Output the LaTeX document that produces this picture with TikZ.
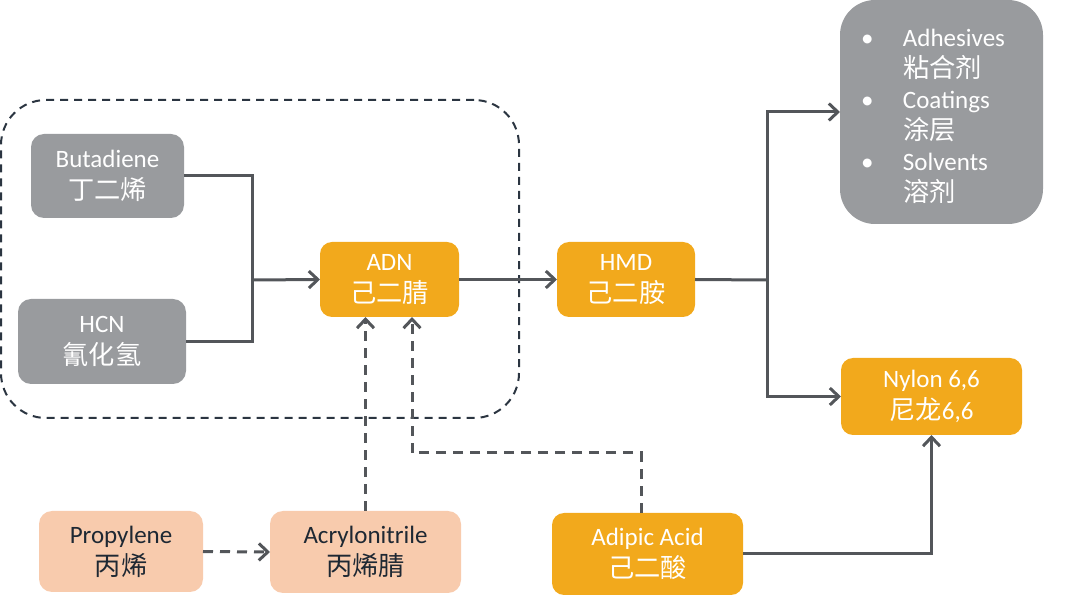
\documentclass[tikz,border=0pt]{standalone}
\usepackage{fontspec}
\setmainfont{Carlito}
\newfontfamily\cjk[Scale=1.05]{Noto Sans CJK SC}
\usetikzlibrary{arrows.meta}
\definecolor{boxgray}{HTML}{999B9E}
\definecolor{boxorange}{HTML}{F2A91C}
\definecolor{boxpeach}{HTML}{F8CBAD}
\definecolor{linegray}{HTML}{53565A}
\definecolor{dashgray}{HTML}{2B3541}
\definecolor{darktext}{HTML}{1E2833}
\begin{document}
\begin{tikzpicture}[x=1pt,y=-1pt,
  every node/.style={inner sep=0pt, outer sep=0pt, align=center, font=\fontsize{25}{32}\selectfont},
  graybox/.style={fill=boxgray, text=white, rounded corners=13pt},
  orangebox/.style={fill=boxorange, text=white, rounded corners=12pt},
  peachbox/.style={fill=boxpeach, text=darktext, rounded corners=13pt},
  conn/.style={draw=linegray, line width=3pt},
  arr/.style={conn, -{Straight Barb[length=9pt,width=17pt]}},
  darr/.style={arr, dash pattern=on 10pt off 7pt},
  grp/.style={draw=dashgray, line width=2pt, dash pattern=on 8pt off 6pt, rounded corners=45pt}
]
\useasboundingbox (0,0) rectangle (1080,601);

\node[grp, minimum width=518pt, minimum height=318pt] (group) at (260,259) {};

\node[graybox, minimum width=153pt, minimum height=84pt] (but) at (107.5,176) {Butadiene\\{\cjk 丁二烯}};
\node[graybox, minimum width=168pt, minimum height=85pt] (hcn) at (102,341.5) {HCN\\{\cjk 氰化氢}};
\node[orangebox, minimum width=139pt, minimum height=75pt] (adn) at (389.5,279.5) {ADN\\{\cjk 己二腈}};
\node[orangebox, minimum width=138pt, minimum height=75pt] (hmd) at (626,279.5) {HMD\\{\cjk 己二胺}};
\node[graybox, rounded corners=35pt, minimum width=203pt, minimum height=224pt] (uses) at (941.5,112) {};
\node[text=white, anchor=north west, align=left] (usestext) at (861,24)
  {\begin{tabular}{@{}p{42pt}@{}l@{}}
   \textbullet & Adhesives\\[-1pt]
   & {\cjk 粘合剂}\\[-1pt]
   \textbullet & Coatings\\[-1pt]
   & {\cjk 涂层}\\[-1pt]
   \textbullet & Solvents\\[-1pt]
   & {\cjk 溶剂}
   \end{tabular}};
\node[orangebox, minimum width=181pt, minimum height=77pt] (nylon) at (931.5,396.5) {Nylon 6,6\\{\cjk 尼龙}6,6};
\node[peachbox, minimum width=164pt, minimum height=81pt] (prop) at (121,551.5) {Propylene\\{\cjk 丙烯}};
\node[peachbox, minimum width=191pt, minimum height=82pt] (acr) at (365.5,552) {Acrylonitrile\\{\cjk 丙烯腈}};
\node[orangebox, minimum width=191pt, minimum height=82pt] (adp) at (647.5,554) {Adipic Acid\\{\cjk 己二酸}};

\coordinate (j1) at (252,280);
\coordinate (j2) at (767,280);
\coordinate (k1) at (641,453);
\coordinate (k2) at (412,453);

\draw[conn] (but.east) -| (j1) |- (hcn.east);
\draw[arr] (j1) -- (adn.west);
\draw[arr] (adn.east) -- (hmd.west);
\draw[conn] (hmd.east) -- (j2);
\draw[arr] (j2) |- (uses.west);
\draw[arr] (j2) |- (nylon.west);
\draw[darr] (prop.east) -- (acr.west);
\draw[darr] (acr.north) -- (acr.north |- adn.south);
\draw[darr] (adp.north -| k1) -- (k1) -- (k2) -- (k2 |- adn.south);
\draw[arr] (adp.east) -| (nylon.south);
\end{tikzpicture}
\end{document}
